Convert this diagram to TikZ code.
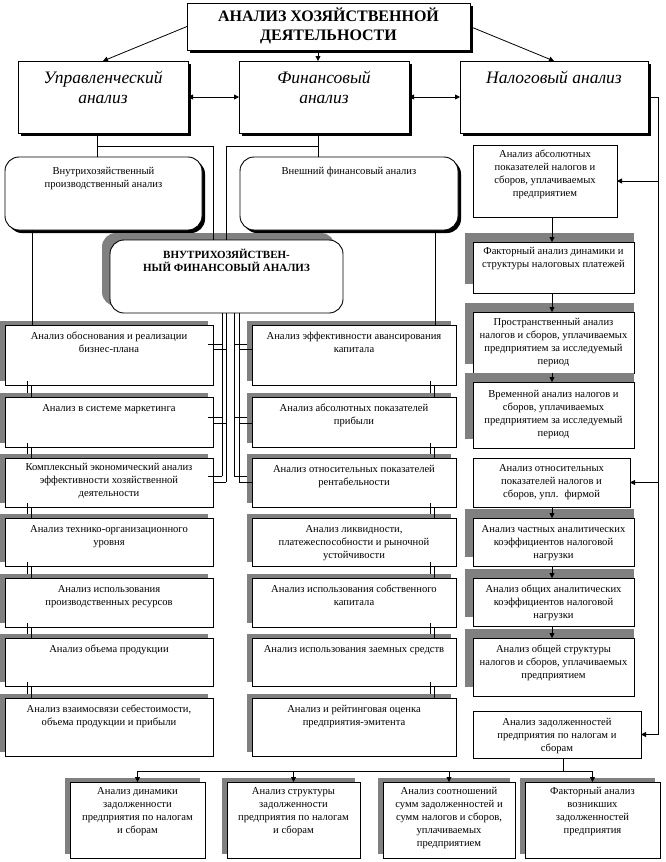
\documentclass[tikz,border=0pt]{standalone}
\usepackage{fontspec}
\setmainfont{Liberation Serif}
\usetikzlibrary{arrows.meta,calc}
\definecolor{shd}{HTML}{808080}
\tikzset{
  box/.style={draw=black, fill=white, line width=0.9pt, inner sep=0pt, outer sep=0pt, rectangle},
  rbox/.style={box, rounded corners=14pt},
  txt/.style={inner sep=0pt, outer sep=0pt, align=center, font=\fontsize{10.6}{13}\selectfont},
  ttl/.style={inner sep=0pt, outer sep=0pt, align=center, font=\fontsize{16}{18.5}\selectfont\bfseries},
  itl/.style={inner sep=0pt, outer sep=0pt, align=center, font=\fontsize{17.5}{20.5}\selectfont\itshape},
  bld/.style={inner sep=0pt, outer sep=0pt, align=center, font=\fontsize{11}{13}\selectfont\bfseries},
  ln/.style={line width=0.8pt},
  arr/.style={ln, -{Triangle[length=5pt,width=5pt]}},
  darr/.style={ln, {Triangle[length=5pt,width=5pt]}-{Triangle[length=5pt,width=5pt]}},
}
% box with text near its top: style, name, x1, y1, x2, y2, text top, text style, text
\newcommand\pbx[9]{%
  \node[#1, minimum width={(#5-#3)*1pt}, minimum height={(#6-#4)*1pt}, anchor=north west] (#2) at (#3,#4) {};
  \node[#8, anchor=north] (#2t) at ({(#3+#5)/2},#7) {#9};}
\newcommand\gshadow[4]{\fill[shd] ({#1-5},{#2-4}) rectangle ({#3-5},{#4-4});}
\newcommand\rshadow[4]{\fill[shd] ({#1-8},{#2-9}) rectangle (#3,{#4-9});}
\newcommand\kshadow[4]{\fill[black] ({#1+3},{#2+3}) rectangle ({#3+3},{#4+3});}
\begin{document}
\begin{tikzpicture}[x=1pt,y=-1pt]
\useasboundingbox (0,0) rectangle (665,862);

% ---- top level
\kshadow{187}{3}{470}{50}
\pbx{box}{title}{187}{3}{470}{50}{8}{ttl}{АНАЛИЗ ХОЗЯЙСТВЕННОЙ\\ДЕЯТЕЛЬНОСТИ}

\kshadow{18}{61}{188}{133}
\pbx{box}{A}{18}{61}{188}{133}{71}{itl}{Управленческий\\анализ}
\kshadow{239}{61}{409}{133}
\pbx{box}{B}{239}{61}{409}{133}{71}{itl}{Финансовый\\анализ}
\kshadow{460}{61}{648}{133}
\pbx{box}{C}{460}{61}{648}{133}{71}{itl}{Налоговый анализ}

% ---- rounded boxes
\fill[black, rounded corners=14pt] (8,160) rectangle (205,233);
\pbx{rbox}{D}{5}{157}{202}{230}{167}{txt}{Внутрихозяйственный\\производственный анализ}
\fill[black, rounded corners=14pt] (243,160) rectangle (461,233);
\pbx{rbox}{E}{240}{157}{458}{230}{167}{txt}{Внешний финансовый анализ}
\fill[shd, rounded corners=14pt] (102,233) rectangle (335,306);
\pbx{rbox}{F}{110}{240}{343}{313}{249}{bld}{ВНУТРИХОЗЯЙСТВЕН-\\НЫЙ ФИНАНСОВЫЙ АНАЛИЗ}

% ---- left column
\gshadow{5}{325}{213}{385}
\pbx{box}{L1}{5}{325}{213}{385}{332}{txt}{Анализ обоснования и реализации\\бизнес-плана}
\gshadow{5}{397}{213}{447}
\pbx{box}{L2}{5}{397}{213}{447}{404}{txt}{Анализ в системе маркетинга}
\gshadow{5}{458}{213}{507}
\pbx{box}{L3}{5}{458}{213}{507}{463}{txt}{Комплексный экономический анализ\\эффективности хозяйственной\\деятельности}
\gshadow{5}{518}{213}{566}
\pbx{box}{L4}{5}{518}{213}{566}{525}{txt}{Анализ технико-организационного\\уровня}
\gshadow{5}{578}{213}{627}
\pbx{box}{L5}{5}{578}{213}{627}{585}{txt}{Анализ использования\\производственных ресурсов}
\gshadow{5}{638}{213}{686}
\pbx{box}{L6}{5}{638}{213}{686}{645}{txt}{Анализ объема продукции}
\gshadow{5}{698}{213}{756}
\pbx{box}{L7}{5}{698}{213}{756}{705}{txt}{Анализ взаимосвязи себестоимости,\\объема продукции и прибыли}

% ---- middle column
\gshadow{252}{325}{456}{385}
\pbx{box}{M1}{252}{325}{456}{385}{332}{txt}{Анализ эффективности авансирования\\капитала}
\gshadow{252}{397}{456}{447}
\pbx{box}{M2}{252}{397}{456}{447}{404}{txt}{Анализ абсолютных показателей\\прибыли}
\gshadow{252}{458}{456}{507}
\pbx{box}{M3}{252}{458}{456}{507}{465}{txt}{Анализ относительных показателей\\рентабельности}
\gshadow{252}{518}{456}{566}
\pbx{box}{M4}{252}{518}{456}{566}{525}{txt}{Анализ ликвидности,\\платежеспособности и рыночной\\устойчивости}
\gshadow{252}{578}{456}{627}
\pbx{box}{M5}{252}{578}{456}{627}{585}{txt}{Анализ использования собственного\\капитала}
\gshadow{252}{638}{456}{686}
\pbx{box}{M6}{252}{638}{456}{686}{645}{txt}{Анализ использования заемных средств}
\gshadow{252}{698}{456}{756}
\pbx{box}{M7}{252}{698}{456}{756}{705}{txt}{Анализ и рейтинговая оценка\\предприятия-эмитента}

% ---- right column
\pbx{box}{R1}{473}{145}{617}{217}{150}{txt}{Анализ абсолютных\\показателей налогов и\\сборов, уплачиваемых\\предприятием}
\rshadow{473}{242}{634}{293}
\pbx{box}{R2}{473}{242}{634}{293}{247}{txt}{Факторный анализ динамики и\\структуры налоговых платежей}
\rshadow{473}{312}{634}{373}
\pbx{box}{R3}{473}{312}{634}{373}{318}{txt}{Пространственный анализ\\налогов и сборов, уплачиваемых\\предприятием за исследуемый\\период}
\rshadow{473}{382}{634}{448}
\pbx{box}{R4}{473}{382}{634}{448}{390}{txt}{Временной анализ налогов и\\сборов, уплачиваемых\\предприятием за исследуемый\\период}
\pbx{box}{R5}{473}{458}{630}{507}{464}{txt}{Анализ относительных\\показателей налогов и\\сборов, упл.~ фирмой}
\rshadow{473}{518}{634}{566}
\pbx{box}{R6}{473}{518}{634}{566}{525}{txt}{Анализ частных аналитических\\коэффициентов налоговой\\нагрузки}
\rshadow{473}{578}{634}{626}
\pbx{box}{R7}{473}{578}{634}{626}{585}{txt}{Анализ общих аналитических\\коэффициентов налоговой\\нагрузки}
\rshadow{473}{638}{634}{696}
\pbx{box}{R8}{473}{638}{634}{696}{645}{txt}{Анализ общей структуры\\налогов и сборов, уплачиваемых\\предприятием}
\pbx{box}{R9}{473}{711}{641}{758}{718}{txt}{Анализ задолженностей\\предприятия по налогам и\\сборам}

% ---- bottom row
\gshadow{70}{782}{205}{858}
\pbx{box}{B1}{70}{782}{205}{858}{787}{txt}{Анализ динамики\\задолженности\\предприятия по налогам\\и сборам}
\gshadow{227}{782}{360}{858}
\pbx{box}{B2}{227}{782}{360}{858}{787}{txt}{Анализ структуры\\задолженности\\предприятия по налогам\\и сборам}
\gshadow{383}{782}{515}{858}
\pbx{box}{B3}{383}{782}{515}{858}{787}{txt}{Анализ соотношений\\сумм задолженностей и\\сумм налогов и сборов,\\уплачиваемых\\предприятием}
\gshadow{525}{782}{660}{858}
\pbx{box}{B4}{525}{782}{660}{858}{787}{txt}{Факторный анализ\\возникших\\задолженностей\\предприятия}

% ---- connectors: top
\coordinate (xm) at (318,0);
\draw[arr] (title.west) -- (A.north);
\draw[arr] (title.south -| xm) -- (B.north -| xm);
\draw[arr] (title.east) -- (C.north);
\draw[darr] (A.east) -- (B.west);
\draw[darr] (B.east) -- (C.west);

% ---- row 2 to row 3
\coordinate (xa) at (97,146);
\coordinate (xb) at (318,146);
\coordinate (f1) at (213,146);
\coordinate (f2) at (226,146);
\draw[ln] (A.south -| xa) -- (D.north -| xa);
\draw[ln] (xa) -- (f1) -- (f1 |- F.north);
\draw[ln] (B.south -| xb) -- (E.north -| xb);
\draw[ln] (xb) -- (f2) -- (f2 |- F.north);

% ---- rounded boxes to columns
\coordinate (xd) at (32,0);
\coordinate (xe) at (435,0);
\draw[ln] (D.south -| xd) -- (L1.north -| xd);
\draw[ln] (E.south -| xe) -- (M1.north -| xe);

% ---- chains in columns
\coordinate (xl1) at (27,0);
\coordinate (xl2) at (31,0);
\coordinate (xm1) at (430,0);
\coordinate (xm2) at (434,0);
\foreach \a/\b in {1/2,2/3,3/4,4/5,5/6,6/7} {
  \draw[ln] ($(L\a.south -| xl1)+(0,-4)$) -- ($(L\b.north -| xl1)+(0,-4)$);
  \draw[ln] (L\a.south -| xl2) -- (L\b.north -| xl2);
  \draw[ln] ($(M\a.south -| xm1)+(0,-4)$) -- ($(M\b.north -| xm1)+(0,-4)$);
  \draw[ln] (M\a.south -| xm2) -- (M\b.north -| xm2);
}

% ---- internal financial analysis to its boxes
\coordinate (s1) at (222,0);
\coordinate (s2) at (226,0);
\coordinate (s3) at (234,0);
\coordinate (s4) at (239,0);
\coordinate (ya1) at ($(L1.north)+(0,19)$);
\coordinate (yb1) at ($(L1.north)+(0,24)$);
\coordinate (ya2) at ($(L2.north)+(0,20)$);
\coordinate (yb2) at ($(L2.north)+(0,26)$);
\coordinate (ya3) at ($(L3.north)+(0,18)$);
\coordinate (yb3) at ($(L3.north)+(0,24)$);
\draw[ln] (F.south -| s1) -- (s1 |- ya3);
\draw[ln] (F.south -| s2) -- (s2 |- yb3);
\draw[ln] (F.south -| s3) -- (s3 |- ya3);
\draw[ln] (F.south -| s4) -- (s4 |- yb3);
\foreach \n in {1,2,3} {
  \draw[ln] (s1 |- ya\n) -- ($(L\n.east |- ya\n)+(-5,0)$);
  \draw[ln] (s2 |- yb\n) -- (L\n.east |- yb\n);
  \draw[ln] (s3 |- ya\n) -- ($(M\n.west |- ya\n)+(-5,0)$);
  \draw[ln] (s4 |- yb\n) -- (M\n.west |- yb\n);
}

% ---- tax analysis column
\coordinate (rt) at (658,97);
\draw[arr] (C.east) -- (rt) |- (R9.east);
\draw[arr] (rt |- R1.east) -- (R1.east);
\draw[arr] (rt |- R5.east) -- (R5.east);
\coordinate (xr) at (552,0);
\foreach \a/\b in {R1/R2,R2/R3,R3/R4,R5/R6,R6/R7,R7/R8}
  \draw[arr] (\a.south -| xr) -- (\b.north -| xr);

% ---- debts
\coordinate (bj) at (563,771);
\draw[ln] (R9.south -| bj) -- (bj);
\draw[ln] (B1.north |- bj) -- (B4.north |- bj);
\foreach \b in {B1,B2,B3,B4}
  \draw[arr] (\b.north |- bj) -- (\b.north);
\end{tikzpicture}
\end{document}
